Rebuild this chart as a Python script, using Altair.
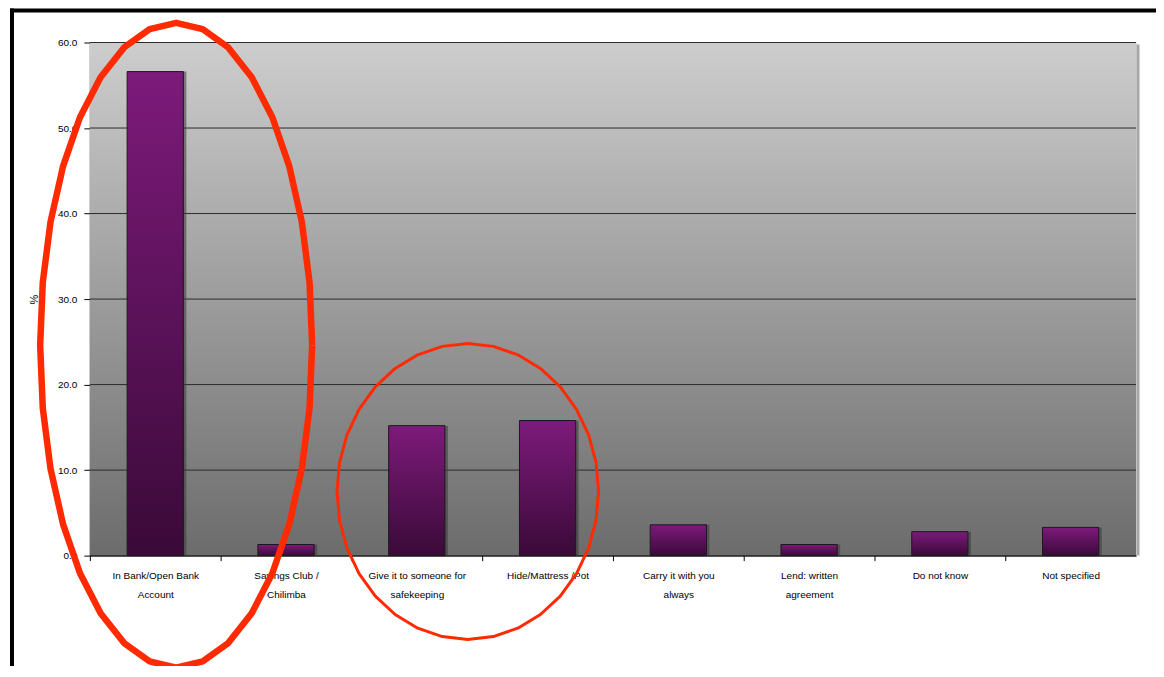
import altair as alt
import pandas as pd
import numpy as np

# ---- data ----
categories = [
    "In Bank/Open Bank|Account",
    "Savings Club /|Chilimba",
    "Give it to someone for|safekeeping",
    "Hide/Mattress /Pot",
    "Carry it with you|always",
    "Lend: written|agreement",
    "Do not know",
    "Not specified",
]
values = [56.6, 1.3, 15.2, 15.8, 3.6, 1.3, 2.8, 3.3]
y_ticks = [0, 10, 20, 30, 40, 50, 60]

# red hand-drawn annotation ellipses (category units / % units)
ell_cx = [0.16, 2.39]
ell_cy = [24.6, 7.5]
ell_rx = [1.04, 1.0]
ell_ry = [37.7, 17.3]
ell_w = [6.5, 3.0]

W, H = 1048, 514
FONT = "Liberation Sans"
STEP = W / len(categories)

df = pd.DataFrame({"cat": categories, "val": values})
grid_df = pd.DataFrame({"t": y_ticks})

rows = []
for i in range(len(ell_cx)):
    for k in range(33):
        a = 2 * np.pi * k / 32
        rows.append({"id": i, "k": k,
                     "ex": ell_cx[i] + ell_rx[i] * np.cos(a),
                     "ey": ell_cy[i] + ell_ry[i] * np.sin(a),
                     "w": ell_w[i]})
ell_df = pd.DataFrame(rows)

yscale = alt.Scale(domain=[0, 60], nice=False, zero=True)
xscale = alt.Scale(paddingInner=0.57, paddingOuter=0.285)

yaxis = alt.Axis(values=y_ticks, format=".1f", labelFont=FONT,
                 labelFontSize=10, labelColor="#000000",
                 labelPadding=7, tickSize=6, tickColor="#000000",
                 domainColor="#000000", grid=False,
                 titleFont=FONT, titleFontSize=11,
                 titleFontWeight="normal", titleColor="#000000",
                 titleX=-50, titleY=H / 2)

one = pd.DataFrame({"a": [0]})

bg = alt.Chart(one).mark_rect(
    color=alt.LinearGradient(
        gradient="linear", x1=0, x2=0, y1=0, y2=1,
        stops=[alt.GradientStop(color="#cdcdcd", offset=0),
               alt.GradientStop(color="#6c6c6c", offset=1)],
    )
).encode(x=alt.value(0), x2=alt.value(W), y=alt.value(0), y2=alt.value(H))

side_shadow = alt.Chart(one).mark_rule(color="#a8a8a8", strokeWidth=3).encode(
    x=alt.value(W + 2), y=alt.value(2), y2=alt.value(H)
)

grid = alt.Chart(grid_df).mark_rule(color="#2a2a2a", strokeWidth=1).encode(
    y=alt.Y("t:Q", scale=yscale, axis=yaxis, title="%"), x=alt.value(0), x2=alt.value(W)
)

shadow = alt.Chart(df).mark_bar(color="#3a3a3a", opacity=0.55, xOffset=3).encode(
    x=alt.X("cat:N", sort=categories, scale=xscale, axis=None),
    y=alt.Y("val:Q", scale=yscale, axis=yaxis, title="%"),
)

bars = alt.Chart(df).mark_bar(
    color=alt.LinearGradient(
        gradient="linear", x1=0, x2=0, y1=0, y2=1,
        stops=[alt.GradientStop(color="#7d1a7b", offset=0),
               alt.GradientStop(color="#3a0a38", offset=1)],
    ),
    stroke="#1a1a1a", strokeWidth=1,
).encode(
    x=alt.X("cat:N", sort=categories, scale=xscale, title=None,
            axis=alt.Axis(labelExpr="split(datum.label, '|')",
                          labelAngle=0, labelFont=FONT, labelFontSize=10,
                          labelColor="#000000", labelLineHeight=19,
                          labelPadding=10, labelOverlap=False, labelLimit=0,
                          tickOffset=-STEP / 2, labelOffset=STEP / 2,
                          tickSize=5, tickColor="#000000",
                          domainColor="#000000", grid=False)),
    y=alt.Y("val:Q", scale=yscale, axis=yaxis, title="%"),
)

ellipses = alt.Chart(ell_df).mark_line(
    color="#ff2a00", strokeJoin="round", clip=False
).encode(
    x=alt.X("ex:Q", scale=alt.Scale(domain=[-0.5, 7.5], nice=False, zero=False), axis=None),
    y=alt.Y("ey:Q", scale=yscale, axis=yaxis, title="%"),
    detail="id:N",
    order="k:Q",
    strokeWidth=alt.StrokeWidth("w:Q", scale=None, legend=None),
)

frame_left = alt.Chart(one).mark_rule(color="#000000", strokeWidth=4).encode(
    x=alt.value(-78), y=alt.value(-34), y2=alt.value(640)
)
frame_top = alt.Chart(one).mark_rule(color="#000000", strokeWidth=4).encode(
    x=alt.value(-80), x2=alt.value(1080), y=alt.value(-32)
)

chart = alt.layer(
    bg, side_shadow, grid, shadow, bars, ellipses, frame_left, frame_top
).resolve_scale(x="independent").properties(
    width=W, height=H,
    autosize=alt.AutoSizeParams(type="none"),
    padding={"left": 82, "top": 34, "right": 20, "bottom": 110},
).configure_view(stroke=None).configure(background="#ffffff")

chart.save("out.html", embed_options={"renderer": "svg", "actions": False})
